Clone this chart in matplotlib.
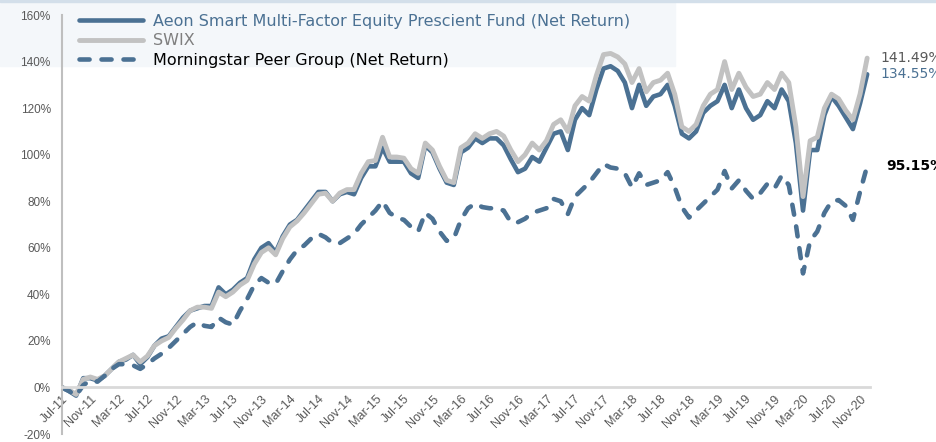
import matplotlib
matplotlib.use("Agg")
import matplotlib.pyplot as plt
from matplotlib.patches import Rectangle

# monthly cumulative returns (%), Jul-11 .. Dec-20
fund = [0, -1.5, -3.5, 4, 4, 3, 5, 8, 11, 12, 14, 10, 13, 18, 21, 22, 26, 30, 33, 34,
        35, 35, 43, 40, 42, 45, 47, 55, 60, 62, 58, 65, 70, 72, 76, 80, 84, 84, 80, 83,
        84, 83, 90, 95, 95, 103, 97, 97, 97, 92, 90, 104, 101, 94, 88, 87, 101, 103, 107, 105,
        107, 107, 104, 98, 92.5, 94, 99, 97, 103, 109, 110, 102, 115, 120, 117, 128, 137, 138, 136, 131,
        120, 130, 121, 125, 126, 130, 121, 109, 107, 110, 118, 121, 123, 130, 120, 128, 120, 115, 117, 123,
        120, 128, 123, 105, 76, 102, 102, 117, 125, 121, 116, 111, 122, 134.55]

swix = [0, -1, -3, 3.5, 4.5, 3.5, 5, 8, 11, 12.5, 14, 11, 13.5, 18, 20, 21.5, 25.5, 29, 33, 34.5,
        34.5, 34, 41, 39, 41, 44, 46, 53, 58, 60, 57, 64, 69, 71.5, 75, 79, 83, 83.5, 80, 83.5,
        85, 85, 92, 97, 97.5, 107.5, 99, 99, 98.5, 94, 92, 105, 102, 95, 89, 88, 103, 105, 109, 107,
        109, 110, 108, 102, 97, 100, 105, 102, 106, 113, 115, 110, 121, 125, 123, 134, 143, 143.5, 142, 139,
        131, 137, 127, 131, 132, 135, 126, 112, 110, 113, 121, 126, 128, 140, 128, 135, 129, 125, 126, 131,
        128, 135, 131, 112, 82, 106, 107.5, 120, 126, 124, 119, 115, 126, 141.49]

peer = [0, -1.5, -3.5, 1, 3, 2.5, 5, 8, 10, 10, 9.5, 8, 10, 12.5, 14.5, 17, 20, 23, 26, 28,
        26.5, 26, 30, 28, 27, 33, 38, 44, 47, 45, 44.5, 50, 55, 59, 61, 64, 66, 64.5, 62, 62,
        64, 66, 70, 73, 76, 80, 75, 73, 72, 69, 67, 75, 72.5, 67, 63, 64, 72, 77, 79, 77.5,
        77, 77, 76, 71, 71, 72.5, 75, 76, 77, 81, 80, 74.5, 82, 85, 88, 92, 96, 94.5, 94, 92,
        86, 92, 87, 88, 89, 92.5, 86, 77.5, 73, 76, 79, 82, 85, 93, 85.5, 89, 84.5, 81, 83.5, 87.5,
        85.5, 91, 87, 70, 49, 63, 67, 75, 80, 80.5, 78, 72, 84, 95.15]

tick_labels = ["Jul-11", "Nov-11", "Mar-12", "Jul-12", "Nov-12", "Mar-13", "Jul-13", "Nov-13",
               "Mar-14", "Jul-14", "Nov-14", "Mar-15", "Jul-15", "Nov-15", "Mar-16", "Jul-16",
               "Nov-16", "Mar-17", "Jul-17", "Nov-17", "Mar-18", "Jul-18", "Nov-18", "Mar-19",
               "Jul-19", "Nov-19", "Mar-20", "Jul-20", "Nov-20"]

names = ["Aeon Smart Multi-Factor Equity Prescient Fund (Net Return)", "SWIX",
         "Morningstar Peer Group (Net Return)"]

BLUE = "#4b7193"
GREY = "#c2c2c2"
TXT = "#595959"

fig = plt.figure(figsize=(9.37, 4.42), dpi=100)
# faint band at the top of the slide
fig.patches.append(Rectangle((0, 0.85), 0.72, 0.15, transform=fig.transFigure,
                             color="#f4f7fa", zorder=-5))
fig.patches.append(Rectangle((0, 0.996), 1, 0.004, transform=fig.transFigure,
                             color="#d3dfea", zorder=-5))

ax = fig.add_axes([0.066, 0.018, 0.8625, 0.948])
ax.patch.set_alpha(0)

# spine position first: moving it resets the ticks
for s in ["top", "right"]:
    ax.spines[s].set_visible(False)
ax.spines["bottom"].set_position(("data", 0))
ax.spines["bottom"].set_color("#d9d9d9")
ax.spines["bottom"].set_linewidth(2)
ax.spines["left"].set_color("#bfbfbf")
ax.spines["left"].set_linewidth(1.5)

x = list(range(len(fund)))
ax.plot(x, fund, color=BLUE, lw=3.3, solid_capstyle="round", label=names[0])
ax.plot(x, swix, color=GREY, lw=3.5, solid_capstyle="round", label=names[1])
ax.plot(x, peer, color=BLUE, lw=3.3, ls=(0, (2.2, 2.6)), dash_capstyle="round",
        label=names[2])

ax.set_xlim(0, 113.4)
ax.set_ylim(-20, 160)
ax.set_yticks(range(-20, 161, 20))
ax.set_yticklabels([f"{v}%" for v in range(-20, 161, 20)], fontsize=8.5, color=TXT,
                   family="Liberation Sans")
ax.set_xticks(range(0, len(fund), 4))
ax.set_xticklabels(tick_labels, fontsize=9, color=TXT, family="Liberation Sans")
ax.tick_params(axis="both", length=0)
ax.tick_params(axis="x", pad=4)
ax.tick_params(axis="y", pad=8)
plt.setp(ax.get_xticklabels(), rotation=45, ha="right", va="top", rotation_mode="anchor")

leg = ax.legend(loc="upper left", bbox_to_anchor=(0.004, 1.037), frameon=False,
                handlelength=4.0, handletextpad=0.62, labelspacing=0.28,
                prop={"size": 11.5})
for t, c in zip(leg.get_texts(), [BLUE, "#7f7f7f", "black"]):
    t.set_color(c)

last = len(fund) - 1
ax.annotate(f"{swix[-1]:.2f}%", xy=(last, swix[-1]), xytext=(9.5, 0),
            textcoords="offset points", va="center", ha="left", fontsize=10,
            color=TXT, annotation_clip=False)
ax.annotate(f"{fund[-1]:.2f}%", xy=(last, fund[-1]), xytext=(9.5, 0),
            textcoords="offset points", va="center", ha="left", fontsize=10,
            color=BLUE, annotation_clip=False)
ax.annotate(f"{peer[-1]:.2f}%", xy=(last, peer[-1]), xytext=(13.5, 0),
            textcoords="offset points", va="center", ha="left", fontsize=10,
            color="black", fontweight="bold", annotation_clip=False)

fig.savefig("out.png", dpi=100)
